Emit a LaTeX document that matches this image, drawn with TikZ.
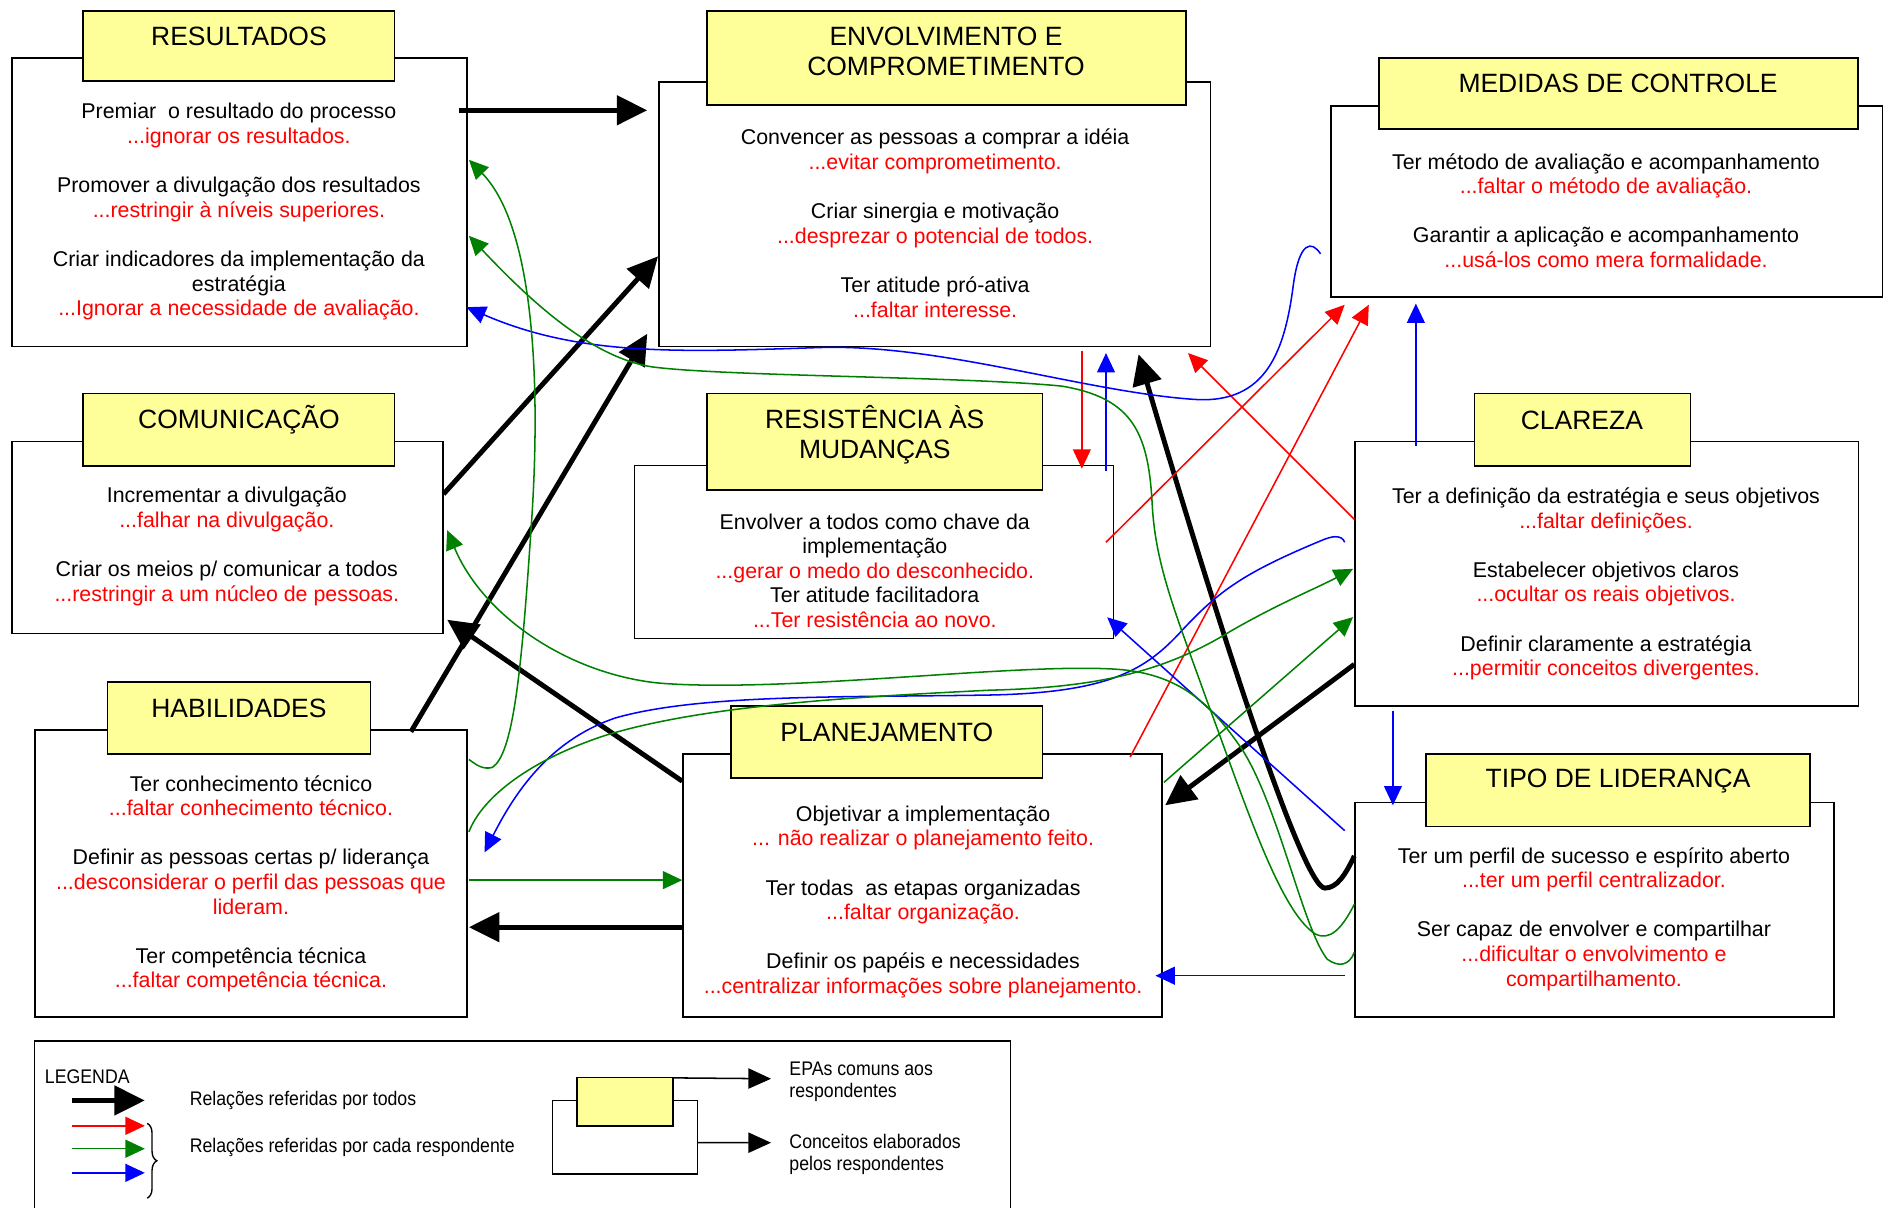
\documentclass[tikz,border=0pt]{standalone}
\usepackage{fontspec}
\setmainfont{Liberation Sans}
\newfontfamily\legfont[FakeStretch=0.9]{Liberation Sans}
\usetikzlibrary{arrows.meta,positioning,decorations.pathreplacing}
\definecolor{amarelo}{RGB}{255,255,153}
\definecolor{verde}{RGB}{0,128,0}
\newcommand{\upx}[1]{#1*0.025cm}
\newcommand{\ruim}[1]{\textcolor{red}{#1}}

\begin{document}
\begin{tikzpicture}[x=0.025cm, y=-0.025cm,
    corpo/.style={draw, line width=0.85pt, fill=white, inner sep=0pt},
    titulo/.style={draw, line width=1pt, fill=amarelo, inner sep=0pt},
    cabeca/.style={align=center, font=\fontsize{15.6}{17.7}\selectfont, inner sep=0pt},
    texto/.style={align=center, font=\fontsize{12.6}{14.5}\selectfont, inner sep=0pt},
    forte/.style={line width=2.9pt, -{Triangle[length=0.63cm,width=0.6cm]}},
    fina/.style={line width=0.9pt, -{Triangle[length=0.4cm,width=0.37cm]}},
    seta/.style={line width=0.9pt, -{Triangle[length=0.47cm,width=0.42cm]}},
    legenda/.style={font=\legfont\fontsize{11.6}{13.2}\selectfont, align=left, anchor=west, inner sep=0pt}]
    \useasboundingbox (0,0) rectangle (1568,1001);

    % caixas
    \node[corpo, minimum width=\upx{377}, minimum height=\upx{239}] (res) at (198.5,167.5) {};
    \node[titulo, minimum width=\upx{258}, minimum height=\upx{58}] (resT) at (198,38) {};
    \node[corpo, minimum width=\upx{457}, minimum height=\upx{219}] (env) at (774.5,177.5) {};
    \node[titulo, minimum width=\upx{397}, minimum height=\upx{78}] (envT) at (784.5,48) {};
    \node[corpo, minimum width=\upx{457}, minimum height=\upx{158}] (med) at (1331.5,167) {};
    \node[titulo, minimum width=\upx{397}, minimum height=\upx{59}] (medT) at (1341.5,77.5) {};
    \node[corpo, minimum width=\upx{357}, minimum height=\upx{159}] (com) at (188.5,445.5) {};
    \node[titulo, minimum width=\upx{258}, minimum height=\upx{60}] (comT) at (198,356) {};
    \node[corpo, minimum width=\upx{397}, minimum height=\upx{143}] (resi) at (724.5,457.5) {};
    \node[titulo, minimum width=\upx{278}, minimum height=\upx{80}] (resiT) at (725,366) {};
    \node[corpo, minimum width=\upx{417}, minimum height=\upx{219}] (cla) at (1331.5,475.5) {};
    \node[titulo, minimum width=\upx{179}, minimum height=\upx{60}] (claT) at (1311.5,356) {};
    \node[corpo, minimum width=\upx{358}, minimum height=\upx{238}] (hab) at (208,724) {};
    \node[titulo, minimum width=\upx{218}, minimum height=\upx{60}] (habT) at (198,595) {};
    \node[corpo, minimum width=\upx{397}, minimum height=\upx{218}] (pla) at (764.5,734) {};
    \node[titulo, minimum width=\upx{258}, minimum height=\upx{60}] (plaT) at (735,615) {};
    \node[corpo, minimum width=\upx{397}, minimum height=\upx{178}] (lid) at (1321.5,754) {};
    \node[titulo, minimum width=\upx{318}, minimum height=\upx{60}] (lidT) at (1341,655) {};

    % titulos
    \node[cabeca] (resN) at (198,30) {RESULTADOS};
    \node[cabeca] (envN) at (784,42.5) {ENVOLVIMENTO E\\COMPROMETIMENTO};
    \node[cabeca] (medN) at (1341,69) {MEDIDAS DE CONTROLE};
    \node[cabeca] (comN) at (198,348) {COMUNICAÇÃO};
    \node[cabeca] (resiN) at (725,360.5) {RESISTÊNCIA ÀS\\MUDANÇAS};
    \node[cabeca] (claN) at (1311,348) {CLAREZA};
    \node[cabeca] (habN) at (198,587) {HABILIDADES};
    \node[cabeca] (plaN) at (735,607) {PLANEJAMENTO};
    \node[cabeca] (lidN) at (1341,647) {TIPO DE LIDERANÇA};

    % textos
    \node[texto] (resX) at (198,175.5) {Premiar\ \ o resultado do processo\\ \ruim{...ignorar os resultados.}\\[\baselineskip]
        Promover a divulgação dos resultados\\ \ruim{...restringir à níveis superiores.}\\[\baselineskip]
        Criar indicadores da implementação da\\ estratégia\\ \ruim{...Ignorar a necessidade de avaliação.}};
    \node[texto] (envX) at (775,185) {Convencer as pessoas a comprar a idéia\\ \ruim{...evitar comprometimento.}\\[\baselineskip]
        Criar sinergia e motivação\\ \ruim{...desprezar o potencial de todos.}\\[\baselineskip]
        Ter atitude pró-ativa\\ \ruim{...faltar interesse.}};
    \node[texto] (medX) at (1331,174.5) {Ter método de avaliação e acompanhamento\\ \ruim{...faltar o método de avaliação.}\\[\baselineskip]
        Garantir a aplicação e acompanhamento\\ \ruim{...usá-los como mera formalidade.}};
    \node[texto] (comX) at (188,453) {Incrementar a divulgação\\ \ruim{...falhar na divulgação.}\\[\baselineskip]
        Criar os meios p/ comunicar a todos\\ \ruim{...restringir a um núcleo de pessoas.}};
    \node[texto] (resiX) at (725,473) {Envolver a todos como chave da\\ implementação\\ \ruim{...gerar o medo do desconhecido.}\\
        Ter atitude facilitadora\\ \ruim{...Ter resistência ao novo.}};
    \node[texto] (claX) at (1331,484) {Ter a definição da estratégia e seus objetivos\\ \ruim{...faltar definições.}\\[\baselineskip]
        Estabelecer objetivos claros\\ \ruim{...ocultar os reais objetivos.}\\[\baselineskip]
        Definir claramente a estratégia\\ \ruim{...permitir conceitos divergentes.}};
    \node[texto] (habX) at (208,732.5) {Ter conhecimento técnico\\ \ruim{...faltar conhecimento técnico.}\\[\baselineskip]
        Definir as pessoas certas p/ liderança\\ \ruim{...desconsiderar o perfil das pessoas que}\\ \ruim{lideram.}\\[\baselineskip]
        Ter competência técnica\\ \ruim{...faltar competência técnica.}};
    \node[texto] (plaX) at (765,747.5) {Objetivar a implementação\\ \ruim{... não realizar o planejamento feito.}\\[\baselineskip]
        Ter todas\ \ as etapas organizadas\\ \ruim{...faltar organização.}\\[\baselineskip]
        Definir os papéis e necessidades\\ \ruim{...centralizar informações sobre planejamento.}};
    \node[texto] (lidX) at (1321,761.5) {Ter um perfil de sucesso e espírito aberto\\ \ruim{...ter um perfil centralizador.}\\[\baselineskip]
        Ser capaz de envolver e compartilhar\\ \ruim{...dificultar o envolvimento e}\\ \ruim{compartilhamento.}};

    % relacoes referidas por todos
    \draw[forte] ([shift={(-7,44)}]res.north east) -- ([shift={(-9,24)}]env.north west);
    \draw[forte] ([shift={(0,44)}]com.north east) -- ([shift={(0,145)}]env.north west);
    \draw[forte] ([shift={(-47,2)}]hab.north east) -- ([shift={(-9,-11)}]env.south west);
    \draw[forte] ([shift={(0,23)}]pla.north west) -- ([shift={(3,-12)}]com.south east);
    \draw[forte] ([shift={(0,144)}]pla.north west) -- ([shift={(1,164)}]hab.north east);
    \draw[forte] ([shift={(0,-35)}]cla.south west) -- ([shift={(2,43)}]pla.north east);
    \draw[forte] ([shift={(0,45)}]lid.north west) .. controls (1115,725) and (1108,736) .. (1098,736)
        .. controls (1080,736) and (1010,520) .. ([shift={(-60,6)}]env.south east);

    % relacoes referidas por cada respondente
    \draw[fina, red] ([shift={(-107,3)}]env.south east) -- ([shift={(-27,3)}]resi.north east);
    \draw[fina, red] ([shift={(-7,64)}]resi.north east) -- ([shift={(12,6)}]med.south west);
    \draw[fina, red] ([shift={(-27,3)}]pla.north east) -- ([shift={(32,6)}]med.south west);
    \draw[fina, red] ([shift={(0,65)}]cla.north west) -- ([shift={(-19,5)}]env.south east);

    \draw[fina, blue] ([shift={(-7,5)}]resi.north east) -- ([shift={(-87,5)}]env.south east);
    \draw[fina, blue] ([shift={(51,4)}]cla.north west) -- ([shift={(71,5)}]med.south west);
    \draw[fina, blue] ([shift={(32,4)}]cla.south west) -- ([shift={(32,3)}]lid.north west);
    \draw[fina, blue] ([shift={(-8,-35)}]lid.south west) -- ([shift={(-6,-35)}]pla.south east);
    \draw[fina, blue] ([shift={(-8,24)}]lid.north west) -- ([shift={(-6,-18)}]resi.south east);
    \draw[fina, blue] ([shift={(-8,123)}]med.north west) .. controls (1087,199) and (1077,200) .. (1072,235)
        .. controls (1065,290) and (1050,335) .. (990,331)
        .. controls (900,325) and (780,285) .. (680,288)
        .. controls (560,292) and (480,295) .. ([shift={(-1,-33)}]res.south east);
    \draw[fina, blue] ([shift={(-8,84)}]cla.north west) .. controls (1112,443) and (1104,444) .. (1095,448)
        .. controls (1030,475) and (1010,490) .. (980,522)
        .. controls (950,555) and (920,574) .. (820,576)
        .. controls (700,578) and (580,575) .. (510,595)
        .. controls (460,612) and (430,650) .. ([shift={(14,102)}]hab.north east);

    \draw[fina, verde] ([shift={(1,25)}]hab.north east) .. controls (395,634) and (400,638) .. (408,636)
        .. controls (425,625) and (432,560) .. (440,440)
        .. controls (448,330) and (445,190) .. ([shift={(1,85)}]res.north east);
    \draw[fina, verde] ([shift={(0,85)}]lid.north west) .. controls (1112,770) and (1102,780) .. (1090,774)
        .. controls (1060,755) and (1030,660) .. (1000,580)
        .. controls (975,510) and (958,470) .. (955,420)
        .. controls (952,360) and (940,330) .. (880,320)
        .. controls (800,312) and (600,312) .. (540,304)
        .. controls (490,296) and (440,250) .. ([shift={(1,148)}]res.north east);
    \draw[fina, verde] ([shift={(0,125)}]lid.north west) .. controls (1118,800) and (1110,802) .. (1100,795)
        .. controls (1080,770) and (1060,670) .. (1030,622)
        .. controls (1005,585) and (980,560) .. (930,555)
        .. controls (850,548) and (650,575) .. (545,566)
        .. controls (470,558) and (400,510) .. ([shift={(3,74)}]com.north east);
    \draw[fina, verde] ([shift={(1,85)}]hab.north east) .. controls (400,660) and (440,630) .. (500,610)
        .. controls (580,585) and (700,578) .. (820,572)
        .. controls (900,570) and (960,560) .. (1020,523)
        .. controls (1060,500) and (1090,488) .. ([shift={(-1,106)}]cla.north west);
    \draw[fina, verde] ([shift={(1,24)}]pla.north east) -- ([shift={(-1,146)}]cla.north west);
    \draw[fina, verde] ([shift={(1,125)}]hab.north east) -- ([shift={(0,105)}]pla.north west);

    % legenda
    \node[draw, line width=0.85pt, minimum width=\upx{809}, minimum height=\upx{200}, anchor=north west, inner sep=0pt] (leg) at (28,862) {};
    \node[legenda] (legT) at (37,892) {LEGENDA};
    \coordinate (lk0) at (60,912);  \coordinate (lk1) at (120,912);
    \coordinate (lr0) at (60,933);  \coordinate (lr1) at (120,933);
    \coordinate (lg0) at (60,952);  \coordinate (lg1) at (120,952);
    \coordinate (lb0) at (60,972);  \coordinate (lb1) at (120,972);
    \draw[forte] (lk0) -- (lk1);
    \draw[fina, red] (lr0) -- (lr1);
    \draw[fina, verde] (lg0) -- (lg1);
    \draw[fina, blue] (lb0) -- (lb1);
    \draw[line width=0.8pt, decorate, decoration={brace, amplitude=0.2cm}] (122,931) -- (122,993);
    \node[legenda] (legK) at (157,912) {Relações referidas por todos};
    \node[legenda] (legR) at (157,951) {Relações referidas por cada respondente};

    \node[corpo, minimum width=\upx{120}, minimum height=\upx{61}] (legC) at (518,942.5) {};
    \node[titulo, minimum width=\upx{80}, minimum height=\upx{40}] (legE) at (518,913) {};
    \coordinate (legA) at (639,894);
    \coordinate (legB) at (639,947);
    \draw[seta] ([shift={(0,1)}]legE.north east) -- (legA);
    \draw[seta] ([shift={(0,4.5)}]legC.east) -- (legB);
    \node[legenda] (legEt) at (654,896.5) {EPAs comuns aos\\respondentes};
    \node[legenda] (legCt) at (654,956.5) {Conceitos elaborados\\pelos respondentes};

\end{tikzpicture}
\end{document}
